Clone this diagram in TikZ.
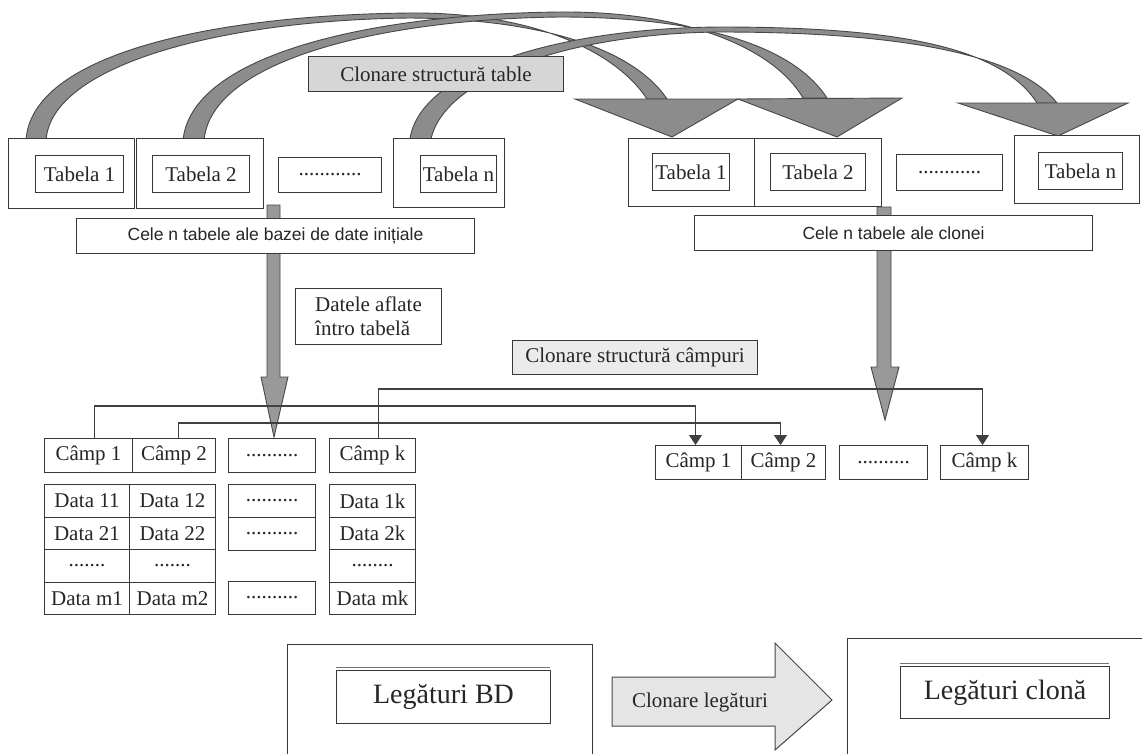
\documentclass[tikz,border=0pt]{standalone}
\usepackage{fontspec}
\setmainfont{Liberation Serif}
\newfontfamily\celefont{Liberation Sans}
\usetikzlibrary{arrows.meta,calc}

\begin{document}
\begin{tikzpicture}[x=1pt,y=-1pt,
  ink/.style={draw=black!78, line width=1pt},
  cell/.style={ink, fill=white, inner sep=0pt, anchor=north west,
               font=\fontsize{21}{24}\selectfont, text=black!85},
  outerbox/.style={ink, fill=white, inner sep=0pt, anchor=north west},
  celebox/.style={cell, font=\celefont\fontsize{17.5}{20}\selectfont},
  greybox/.style={cell, fill=black!16},
  palebox/.style={cell, fill=black!8},
  bigtext/.style={cell, font=\fontsize{28}{30}\selectfont},
  band/.style={fill=black!45, draw=black!72, line width=0.9pt},
  shaft/.style={fill=black!40, draw=black!72, line width=0.9pt},
  link/.style={draw=black!75, line width=1.1pt},
  linktip/.style={link, -{Triangle[width=13pt,length=10pt]}},
]
\useasboundingbox (0,0) rectangle (1142,753);
\fill[white] (0,0) rectangle (1142,753);
\clip (0,0) rectangle (1142,753);

% ---------- curved arrows: structure of each table copied to the clone ----------
\path[band] (26,141) .. controls (30,55) and (210,15) .. (410,13)
  .. controls (530,12) and (615,50) .. (647,99) -- (667,99)
  .. controls (632,47) and (537,19) .. (410,18)
  .. controls (222,20) and (50,65) .. (46,141) -- cycle;
\path[band] (575,99) -- (738,99) -- (672,137) -- cycle;

\path[band] (183,141) .. controls (190,55) and (370,14) .. (560,12)
  .. controls (690,11) and (775,50) .. (803,98) -- (827,98)
  .. controls (792,44) and (697,17) .. (560,17)
  .. controls (382,19) and (210,60) .. (204,141) -- cycle;
\path[band] (738,99) -- (902,98) -- (837,137) -- cycle;

\path[band] (410,139) .. controls (420,70) and (560,28) .. (720,27)
  .. controls (890,27) and (1000,45) .. (1037,103) -- (1057,103)
  .. controls (1017,52) and (892,32) .. (720,32)
  .. controls (577,33) and (445,75) .. (431,139) -- cycle;
\path[band] (958,103) -- (1128,103) -- (1058,136) -- cycle;

\node[greybox, minimum width=255pt, minimum height=35pt] (ctable) at (308,56) {Clonare structură table};

% ---------- tables of the source database ----------
\node[outerbox, minimum width=126pt, minimum height=70pt] (lo1) at (8,138) {};
\node[cell, minimum width=88pt, minimum height=37pt] (lt1) at (35,155) {Tabela 1};
\node[outerbox, minimum width=127pt, minimum height=70pt] (lo2) at (136,138) {};
\node[cell, minimum width=97pt, minimum height=37pt] (lt2) at (152,155) {Tabela 2};
\node[cell, minimum width=103pt, minimum height=35pt] (ltd) at (278,157) {............};
\node[outerbox, minimum width=111pt, minimum height=69pt] (lon) at (393,138) {};
\node[cell, minimum width=76pt, minimum height=37pt] (ltn) at (420,155) {Tabela n};

% ---------- tables of the clone ----------
\node[outerbox, minimum width=126pt, minimum height=68pt] (ro1) at (628,138) {};
\node[cell, minimum width=77pt, minimum height=37pt] (rt1) at (652,153) {Tabela 1};
\node[outerbox, minimum width=127pt, minimum height=68pt] (ro2) at (754,138) {};
\node[cell, minimum width=95pt, minimum height=37pt] (rt2) at (770,153) {Tabela 2};
\node[cell, minimum width=106pt, minimum height=36pt] (rtd) at (896,154) {............};
\node[outerbox, minimum width=125pt, minimum height=68pt] (ron) at (1014,135) {};
\node[cell, minimum width=84pt, minimum height=37pt] (rtn) at (1038,152) {Tabela n};

% ---------- vertical arrows down to the fields ----------
\path[shaft] (267,205) -- (280,205) -- (280,377) -- (288,377) -- (274,437)
  -- (261,377) -- (267,377) -- cycle;
\path[shaft] (877,207) -- (891,207) -- (891,367) -- (899,367) -- (885,420)
  -- (871,367) -- (877,367) -- cycle;

\node[celebox, minimum width=398pt, minimum height=35pt] (lcele) at (76,218) {Cele n tabele ale bazei de date inițiale};
\node[celebox, minimum width=398pt, minimum height=35pt] (rcele) at (694,215) {Cele n tabele ale clonei};

\node[cell, minimum width=146pt, minimum height=56pt, align=left,
      font=\fontsize{21}{24}\selectfont] (datele) at (295,288) {Datele aflate\\întro tabelă};
\node[palebox, minimum width=245pt, minimum height=34pt] (ccamp) at (512,340) {Clonare structură câmpuri};

% ---------- fields and data of one table ----------
\node[cell, minimum width=88pt, minimum height=34pt] (lc1) at (44,438) {Câmp 1};
\node[cell, minimum width=83pt, minimum height=34pt] (lc2) at (132,438) {Câmp 2};
\node[cell, minimum width=87pt, minimum height=34pt] (lcd) at (228,438) {..........};
\node[cell, minimum width=86pt, minimum height=34pt] (lck) at (329,438) {Câmp k};

\node[cell, minimum width=85pt, minimum height=33pt] (d11) at (44,484) {Data 11};
\node[cell, minimum width=86pt, minimum height=33pt] (d12) at (129,484) {Data 12};
\node[cell, minimum width=85pt, minimum height=32pt] (d21) at (44,517) {Data 21};
\node[cell, minimum width=86pt, minimum height=32pt] (d22) at (129,517) {Data 22};
\node[cell, minimum width=85pt, minimum height=33pt] (d31) at (44,549) {.......};
\node[cell, minimum width=86pt, minimum height=33pt] (d32) at (129,549) {.......};
\node[cell, minimum width=85pt, minimum height=32pt] (dm1) at (44,582) {Data m1};
\node[cell, minimum width=86pt, minimum height=32pt] (dm2) at (129,582) {Data m2};

\node[cell, minimum width=87pt, minimum height=33pt] (dd1) at (228,484) {..........};
\node[cell, minimum width=87pt, minimum height=33pt] (dd2) at (228,517) {..........};
\node[cell, minimum width=87pt, minimum height=33pt] (ddm) at (228,581) {..........};

\node[cell, minimum width=86pt, minimum height=33pt] (d1k) at (329,484) {Data 1k};
\node[cell, minimum width=86pt, minimum height=32pt] (d2k) at (329,517) {Data 2k};
\node[cell, minimum width=86pt, minimum height=33pt] (d3k) at (329,549) {........};
\node[cell, minimum width=86pt, minimum height=32pt] (dmk) at (329,582) {Data mk};

% ---------- fields of the cloned table ----------
\node[cell, minimum width=86pt, minimum height=34pt] (rc1) at (655,445) {Câmp 1};
\node[cell, minimum width=84pt, minimum height=34pt] (rc2) at (741,445) {Câmp 2};
\node[cell, minimum width=88pt, minimum height=34pt] (rcd) at (839,445) {..........};
\node[cell, minimum width=88pt, minimum height=34pt] (rck) at (940,445) {Câmp k};

\draw[linktip] ([xshift=6pt]lc1.north) -- ++(0,-32) -| ([xshift=-3pt]rc1.north);
\draw[linktip] ([xshift=4.5pt]lc2.north) -- ++(0,-15) -| ([xshift=-3pt]rc2.north);
\draw[linktip] ([xshift=6pt]lck.north) -- ++(0,-49) -| ([xshift=-2pt]rck.north);

% ---------- relationships ----------
\node[outerbox, minimum width=305pt, minimum height=140pt] (bigl) at (287,644) {};
\draw[ink, black!55] (336,667) -- (550,667);
\node[bigtext, minimum width=214pt, minimum height=53pt] (legbd) at (336,670) {Legături BD};

\path[fill=black!10, draw=black!72, line width=1pt]
  (612,677) -- (775,677) -- (775,643) -- (832,700) -- (775,750) -- (775,726) -- (612,726) -- cycle;
\node[font=\fontsize{21}{24}\selectfont, text=black!85] (clonleg) at (700,702) {Clonare legături};

\node[outerbox, minimum width=320pt, minimum height=140pt] (bigr) at (847,638) {};
\draw[ink, black!55] (900,663) -- (1109,663);
\node[bigtext, minimum width=209pt, minimum height=52pt] (legcl) at (900,666) {Legături clonă};

\end{tikzpicture}
\end{document}
